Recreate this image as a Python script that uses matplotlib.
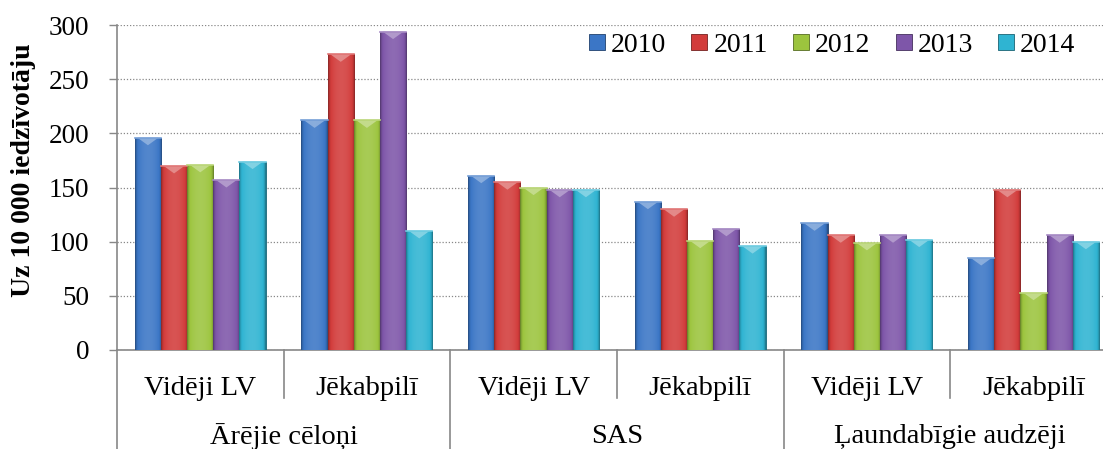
import numpy as np
import matplotlib.pyplot as plt
import matplotlib.colors as mcolors
from matplotlib.patches import Polygon
from matplotlib.lines import Line2D

plt.rcParams['font.family'] = ['Liberation Serif', 'DejaVu Serif']

years = ["2010", "2011", "2012", "2013", "2014"]
sub_labels = ["Vidēji LV", "Jēkabpilī", "Vidēji LV", "Jēkabpilī", "Vidēji LV", "Jēkabpilī"]
group_labels = ["Ārējie cēloņi", "SAS", "Ļaundabīgie audzēji"]

v2010 = [196, 212, 161, 137, 117, 85]
v2011 = [170, 273, 155, 130, 106, 148]
v2012 = [171, 212, 150, 101, 99, 53]
v2013 = [157, 294, 148, 112, 106, 106]
v2014 = [174, 110, 148, 96, 102, 100]
series = [v2010, v2011, v2012, v2013, v2014]

colors = ["#3b76c6", "#d23c3b", "#9cc43e", "#7e56a9", "#2fb4d2"]

fig = plt.figure(figsize=(11.03, 4.49), dpi=100)
ax = fig.add_axes([0.106, 0.2205, 0.9066, 0.7238])

x = np.arange(len(sub_labels))
w = 0.157


def shade(c, f):
    r, g, b = mcolors.to_rgb(c)
    if f < 0:
        return (r * (1 + f), g * (1 + f), b * (1 + f))
    return (r + (1 - r) * f, g + (1 - g) * f, b + (1 - b) * f)


for i, vals in enumerate(series):
    bars = ax.bar(x + (i - 2) * w, vals, w, color=colors[i],
                  edgecolor=shade(colors[i], -0.45), linewidth=0.6, zorder=3)
    # bevel look: horizontal gradient + light chevron at the top
    grad = np.linspace(0, 1, 40)
    prof = np.sin(grad * np.pi) ** 0.6
    cmap = mcolors.LinearSegmentedColormap.from_list(
        "b%d" % i, [shade(colors[i], -0.35), colors[i], shade(colors[i], 0.12)])
    for b in bars:
        x0, y0 = b.get_x(), b.get_y()
        bw, bh = b.get_width(), b.get_height()
        im = ax.imshow(prof[None, :], cmap=cmap, vmin=0, vmax=1, aspect="auto",
                       extent=[x0, x0 + bw, y0, y0 + bh], zorder=3.5)
        im.set_clip_path(b)
        tri = Polygon([[x0 + bw * 0.1, bh], [x0 + bw * 0.9, bh],
                       [x0 + bw * 0.5, bh - 7]], closed=True,
                      facecolor=shade(colors[i], 0.45), edgecolor="none",
                      alpha=0.85, zorder=4)
        ax.add_patch(tri)
        ax.plot([x0, x0 + bw], [bh, bh], color=shade(colors[i], 0.3),
                lw=1.2, zorder=4.5)

ax.set_xlim(-0.5, 5.5)
ax.set_ylim(0, 300)
ax.set_yticks(range(0, 301, 50))
ax.tick_params(axis="y", labelsize=19.5, length=6, width=1, color="#888888", pad=14)
ax.set_xticks([])
ax.yaxis.grid(True, linestyle=(0, (1, 1.5)), color="#888888", linewidth=0.9, zorder=0)
ax.set_axisbelow(True)
for s in ["top", "right"]:
    ax.spines[s].set_visible(False)
for s in ["left", "bottom"]:
    ax.spines[s].set_color("#888888")
    ax.spines[s].set_linewidth(1.2)

fig.text(0.021, 0.62, "Uz 10 000 iedzīvotāju", rotation=90, ha="center", va="center",
         fontsize=20, fontweight="bold")

trans = ax.get_xaxis_transform()
for k, lab in enumerate(sub_labels):
    ax.text(k, -0.12, lab, transform=trans, ha="center", va="center", fontsize=20.5)
for g, lab in enumerate(group_labels):
    ax.text(2 * g + 0.5, -0.265, lab, transform=trans, ha="center", va="center", fontsize=20.5)
for k in range(7):
    low = -0.31 if k % 2 == 0 else -0.148
    ax.plot([k - 0.5, k - 0.5], [0, low], transform=trans, color="#888888",
            lw=1.2, clip_on=False)

handles = [Line2D([], [], marker="s", linestyle="none", markersize=11.5,
                  markerfacecolor=c, markeredgecolor=shade(c, -0.45), markeredgewidth=0.6)
           for c in colors]
ax.legend(handles, years, ncol=5, frameon=False, fontsize=20,
          loc="center right", bbox_to_anchor=(0.985, 0.9), bbox_transform=fig.transFigure,
          handlelength=0.7, handletextpad=0.15, columnspacing=0.85, borderaxespad=0)

fig.savefig("out.png", dpi=100)
